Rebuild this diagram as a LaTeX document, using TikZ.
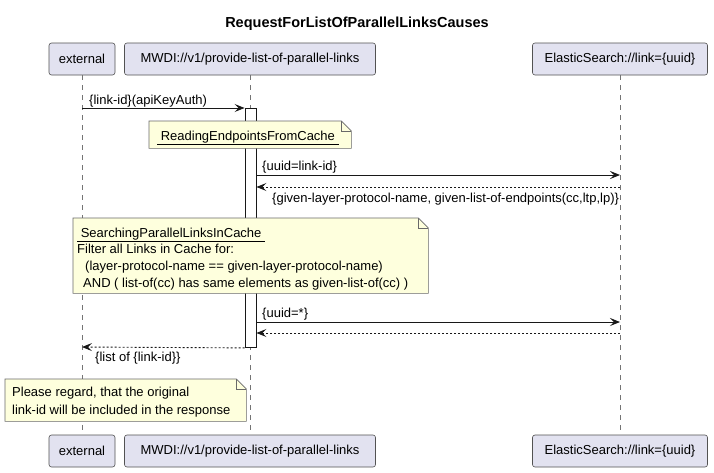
\documentclass[tikz,border=0pt]{standalone}
\usepackage{fontspec}
\setmainfont{Liberation Sans}
\usetikzlibrary{arrows.meta}
\definecolor{partfill}{HTML}{E2E2F0}
\definecolor{notefill}{HTML}{FEFFDD}
\definecolor{edgec}{HTML}{181818}
\newcommand\notedraw[1]{%
  \filldraw[notebox] (#1.north west) -- ([xshift=-10pt]#1.north east) -- ([yshift=-10pt]#1.north east) -- (#1.south east) -- (#1.south west) -- cycle;
  \draw[notebox, fill=none] ([xshift=-10pt]#1.north east) |- ([yshift=-10pt]#1.north east);}
\begin{document}
\begin{tikzpicture}[x=1pt, y=-1pt, font=\fontsize{13}{16}\selectfont,
  part/.style={draw=edgec!75, fill=partfill, rounded corners=2.5pt, line width=0.6pt, minimum height=32pt, inner sep=0pt},
  life/.style={draw=edgec!60, dash pattern=on 5pt off 5pt, line width=0.6pt},
  msg/.style={draw=edgec, line width=0.9pt, -{Stealth[length=10pt,width=8pt,inset=4pt]}},
  ret/.style={msg, dash pattern=on 2pt off 2pt},
  lbl/.style={anchor=base west, inner sep=0pt},
  notebox/.style={fill=notefill, draw=edgec!65, line width=0.6pt},
  noteshape/.style={anchor=north west, inner sep=0pt},
  actbar/.style={draw=edgec, fill=white, line width=0.9pt, inner sep=0pt}]
\useasboundingbox[fill=white] (0,0) rectangle (714,472);

\node[font=\bfseries\fontsize{14.5}{16}\selectfont] (title) at (357,24) {RequestForListOfParallelLinksCauses};

% participants
\node[part, minimum width=66pt] (extT) at (82,59) {external};
\node[part, minimum width=251pt] (mwdiT) at (250,59) {MWDI://v1/provide-list-of-parallel-links};
\node[part, minimum width=175pt] (esT) at (620,59) {ElasticSearch://link=\{uuid\}};
\node[part, minimum width=66pt] (extB) at (82,451) {external};
\node[part, minimum width=251pt] (mwdiB) at (250,451) {MWDI://v1/provide-list-of-parallel-links};
\node[part, minimum width=175pt] (esB) at (620,451) {ElasticSearch://link=\{uuid\}};

% lifelines
\draw[life] (extT.south) -- (extB.north);
\draw[life] (mwdiT.south) -- (mwdiB.north);
\draw[life] (esT.south) -- (esB.north);

% activation
\node[actbar, minimum width=11pt, minimum height=239pt, anchor=north] (bar) at (250.5,108) {};

% messages
\coordinate (m1s) at (82,108);
\draw[msg] (m1s) -- (bar.north west);
\node[lbl] (l1) at (89,104.5) {\{link-id\}(apiKeyAuth)};

\draw[msg] (bar.east |- 0,175) -- (esT.south |- 0,175);
\node[lbl] (l2) at (262,170.5) {\{uuid=link-id\}};

\draw[ret] (esT.south |- 0,187) -- (bar.east |- 0,187);
\node[lbl] (l3) at (272,202.5) {\{given-layer-protocol-name, given-list-of-endpoints(cc,ltp,lp)\}};

\draw[msg] (bar.east |- 0,322) -- (esT.south |- 0,322);
\node[lbl] (l4) at (262,317.5) {\{uuid=*\}};

\draw[ret] (esT.south |- 0,333) -- (bar.east |- 0,333);

\draw[ret] (bar.south west) -- (extT.south |- 0,347);
\node[lbl] (l5) at (95,361.5) {\{list of \{link-id\}\}};

% note 1
\node[noteshape, minimum width=202pt, minimum height=27pt] (n1) at (149,121) {};
\notedraw{n1}
\node[lbl] (n1a) at (157,140.5) {\underline{\ ReadingEndpointsFromCache\ }};

% note 2
\node[noteshape, minimum width=355pt, minimum height=75pt] (n2) at (73,218) {};
\notedraw{n2}
\node[lbl] (n2a) at (77,237.5) {\underline{\ SearchingParallelLinksInCache\ }};
\node[lbl] (n2b) at (77,253.5) {Filter all Links in Cache for:};
\node[lbl] (n2c) at (85,270.5) {(layer-protocol-name == given-layer-protocol-name)};
\node[lbl] (n2d) at (83,287.5) {AND ( list-of(cc) has same elements as given-list-of(cc) )};

% note 3
\node[noteshape, minimum width=241pt, minimum height=42pt] (n3) at (5,379) {};
\notedraw{n3}
\node[lbl] (n3a) at (12,396.5) {Please regard, that the original};
\node[lbl] (n3b) at (12,414.5) {link-id will be included in the response};
\end{tikzpicture}
\end{document}
